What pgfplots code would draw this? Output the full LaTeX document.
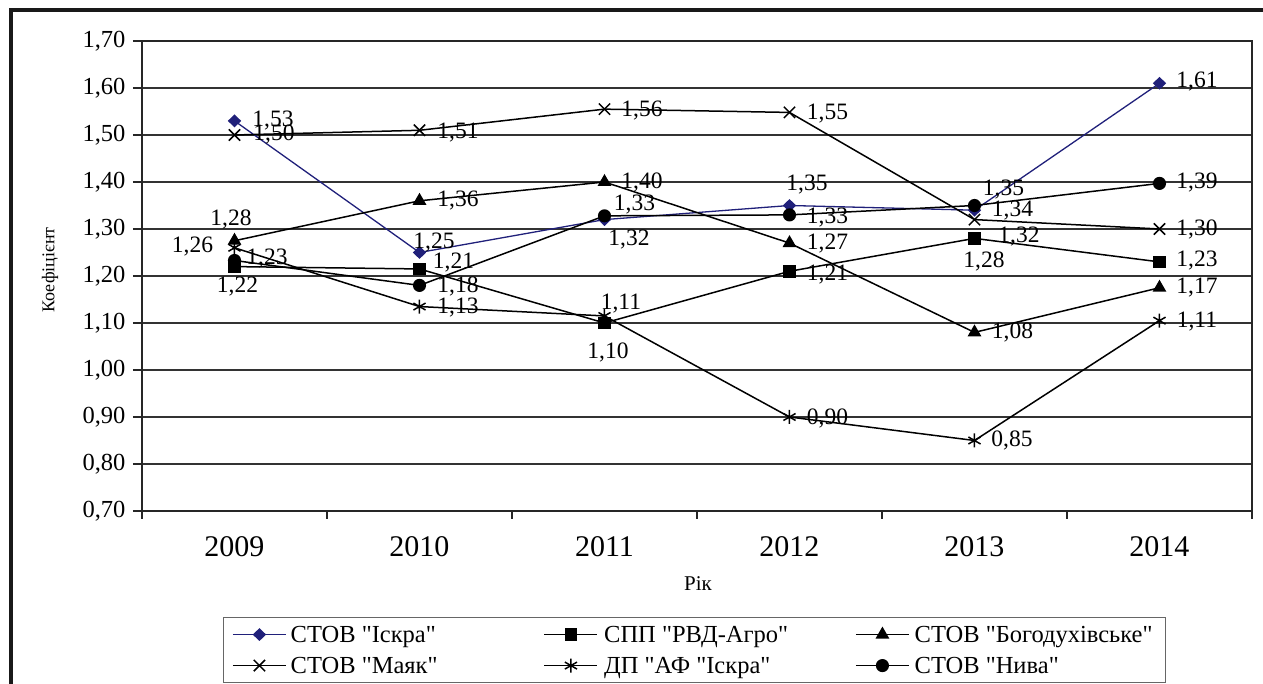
\documentclass[border=0pt]{standalone}
\usepackage{fontspec}
\setmainfont{Liberation Serif}[Ligatures=TeXOff]
\usepackage{pgfplots}
\usepackage{pgfplotstable}
\pgfplotsset{compat=1.18}
\definecolor{iskra}{RGB}{32,32,122}

% x y label dx dy  (label offsets in pt)
\pgfplotstableread{
x   y     lab   dx    dy
0.5 1.53  1,53  38.5  0
1.5 1.25  1,25  14.5  10
2.5 1.32  1,32  24.5  -19.5
3.5 1.35  1,35  17.5  20.5
4.5 1.34  1,34  38    0
5.5 1.61  1,61  37.5  1.5
}\tIskra
\pgfplotstableread{
x   y     lab   dx    dy
0.5 1.22  1,22  3     -20
1.5 1.215 1,21  34    6
2.5 1.10  1,10  3.5   -29
3.5 1.21  1,21  38    -3
4.5 1.28  1,28  9.5   -23
5.5 1.23  1,23  37.5  1
}\tRvd
\pgfplotstableread{
x   y     lab   dx    dy
0.5 1.275 1,28  -3.5  21.5
1.5 1.36  1,36  38.5  0
2.5 1.40  1,40  37.5  0
3.5 1.27  1,27  38    0
4.5 1.08  1,08  38    0
5.5 1.175 1,17  37.5  0
}\tBog
\pgfplotstableread{
x   y     lab   dx    dy
0.5 1.50  1,50  39.5  0
1.5 1.51  1,51  38.5  -2
2.5 1.555 1,56  37.5  -1
3.5 1.548 1,55  38    -1
4.5 1.32  1,32  44.5  -16.5
5.5 1.30  1,30  37.5  0
}\tMayak
\pgfplotstableread{
x   y     lab   dx    dy
0.5 1.26  1,26  -42   1
1.5 1.135 1,13  38.5  -1
2.5 1.115 1,11  16.5  12
3.5 0.90  0,90  38    -1
4.5 0.85  0,85  37.5  0
5.5 1.105 1,11  37.5  -1
}\tDp
\pgfplotstableread{
x   y     lab   dx    dy
0.5 1.233 1,23  32.5  2
1.5 1.18  1,18  38.5  -1
2.5 1.328 1,33  30    11
3.5 1.33  1,33  38    -2.5
4.5 1.35  1,35  29    16
5.5 1.397 1,39  37.5  1
}\tNyva

\pgfplotsset{
  lbl/.style={
    nodes near coords, point meta=explicit symbolic,
    visualization depends on={\thisrow{dx}\as\dx},
    visualization depends on={\thisrow{dy}\as\dy},
    every node near coord/.append style={anchor=center, xshift={\dx*1pt}, yshift={\dy*1pt},
      text=black, inner sep=0pt, font=\fontsize{23.5}{27}\selectfont},
  },
}

\begin{document}
\begin{tikzpicture}
\begin{axis}[
  scale only axis, width=1110pt, height=470pt,
  xmin=0, xmax=6, ymin=0.7, ymax=1.7,
  clip=false,
  axis line style={line width=2pt, black!85},
  xtick={0.5,1.5,2.5,3.5,4.5,5.5},
  xticklabels={2009,2010,2011,2012,2013,2014},
  major x tick style={draw=none},
  minor xtick={0,1,2,3,4,5,6},
  ytick={0.7,0.8,0.9,1.0,1.1,1.2,1.3,1.4,1.5,1.6,1.7},
  tick align=outside, tick pos=left,
  major tick length=9pt, minor tick length=8pt,
  tick style={line width=1.5pt, black!85},
  ymajorgrids, grid style={line width=1.5pt, black!80},
  yticklabel style={font=\fontsize{24.5}{28}\selectfont, xshift=-4pt,
    /pgf/number format/.cd, use comma, fixed, fixed zerofill, precision=2, assume math mode=true},
  xticklabel style={font=\fontsize{30}{34}\selectfont, anchor=center, yshift=-27pt},
  xlabel={Рік},
  xlabel style={at={(axis description cs:0.5009,-0.1553)}, anchor=center, font=\fontsize{21}{25}\selectfont},
  ylabel={Коефіцієнт},
  ylabel style={at={(axis description cs:-0.0829,0.5128)}, anchor=center, font=\fontsize{18}{22}\selectfont},
  legend columns=3, legend cell align=left,
  legend style={at={(0.4977,-0.2255)}, anchor=north, draw=black!60, line width=1.2pt,
    inner xsep=9pt, inner ysep=5.5pt, column sep=0pt, row sep=8pt,
    nodes={inner sep=0pt, text height=19pt, text depth=4pt},
    font=\fontsize{24.5}{28}\selectfont},
  legend image code/.code={\draw[mark repeat=2,mark phase=2,#1] plot coordinates {(0pt,0pt) (26.5pt,0pt) (53pt,0pt)};},
]
\addplot[iskra, line width=1.3pt, mark=diamond*, mark size=5.5pt, mark options={fill=iskra, xscale=1.4, solid}, lbl]
  table[x=x, y=y, meta=lab] {\tIskra};
\addlegendentry{\makebox[257pt][l]{\hspace{4pt}СТОВ "Іскра"}}
\addplot[black, line width=1.5pt, mark=square*, mark size=5.5pt, mark options={fill=black, solid}, lbl]
  table[x=x, y=y, meta=lab] {\tRvd};
\addlegendentry{\makebox[257pt][l]{\hspace{6pt}СПП "РВД-Агро"}}
\addplot[black, line width=1.5pt, mark=triangle*, mark size=6.5pt, mark options={fill=black, solid}, lbl]
  table[x=x, y=y, meta=lab] {\tBog};
\addlegendentry{\makebox[247pt][l]{\hspace{5pt}СТОВ "Богодухівське"}}
\addplot[black, line width=1.5pt, mark=x, mark size=8pt, mark options={solid}, lbl]
  table[x=x, y=y, meta=lab] {\tMayak};
\addlegendentry{\makebox[257pt][l]{\hspace{4pt}СТОВ "Маяк"}}
\addplot[black, line width=1.5pt, mark=asterisk, mark size=7pt, mark options={solid}, lbl]
  table[x=x, y=y, meta=lab] {\tDp};
\addlegendentry{\makebox[257pt][l]{\hspace{6pt}ДП "АФ "Іскра"}}
\addplot[black, line width=1.5pt, mark=*, mark size=5.8pt, mark options={fill=black, solid}, lbl]
  table[x=x, y=y, meta=lab] {\tNyva};
\addlegendentry{\makebox[247pt][l]{\hspace{5pt}СТОВ "Нива"}}
\end{axis}
\draw[line width=4pt, black!90] (-131pt,-173pt) -- (-131pt,501pt) -- (1121pt,501pt);
\pgfresetboundingbox
\useasboundingbox (-142pt,-173pt) rectangle (1121pt,511pt);
\end{tikzpicture}
\end{document}
